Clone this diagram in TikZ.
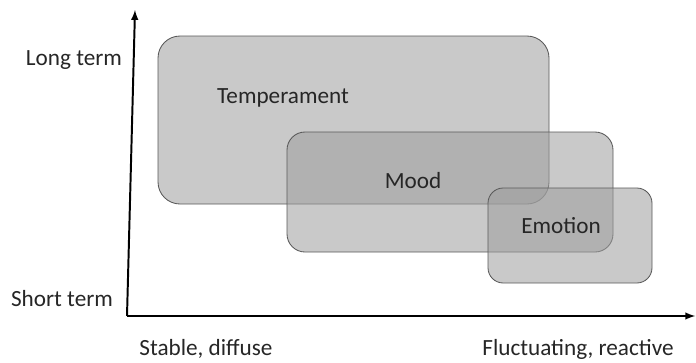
\documentclass[tikz,border=0pt]{standalone}
\usepackage{fontspec}
\setmainfont{Carlito}
\usetikzlibrary{arrows}

\newcommand{\PicW}{17.4}
\newcommand{\PicH}{9.05}
\newcommand{\AxisW}{1.4pt}
\newcommand{\drawBox}[4]{
    \draw[BoxFill, rounded corners=#3] (#1) rectangle (#2) node[coordinate] (#4) {};
}
\tikzset{
    BoxFill/.style={fill=black!38, fill opacity=0.56, draw=black!65, line width=0.6pt},
    AxisText/.style={text=black!85, font=\fontsize{16.5}{18}\selectfont, inner sep=0pt},
}

\begin{document}
\begin{tikzpicture}
    \useasboundingbox (0,0) rectangle (\PicW,\PicH);

    \coordinate (Origin) at (3.175,1.15);
    \coordinate (YTop)   at (3.375,8.8);
    \coordinate (XEnd)   at (17.38,1.15);

    % Boxes
    \drawBox{3.95,8.15}{13.725,3.95}{0.55cm}{TempC}
    \drawBox{7.175,5.75}{15.325,2.75}{0.45cm}{MoodC}
    \drawBox{12.2,4.35}{16.3,1.975}{0.38cm}{EmoC}

    \node[AxisText] (Temp) at (7.075,6.6)   {Temperament};
    \node[AxisText] (Mood) at (10.325,4.525) {Mood};
    \node[AxisText] (Emo)  at (14.025,3.4)  {Emotion};

    % Axes
    \draw[-latex, line width=\AxisW] (Origin) -- (YTop);
    \draw[-latex, line width=\AxisW] (Origin) -- (XEnd);

    \node[AxisText] (Long)  at (1.85,7.55)   {Long term};
    \node[AxisText] (Short) at (1.55,1.575)  {Short term};
    \node[AxisText] (Stable) at (5.15,0.32) {Stable, diffuse};
    \node[AxisText] (Fluct) at (14.45,0.32) {Fluctuating, reactive};
\end{tikzpicture}
\end{document}
